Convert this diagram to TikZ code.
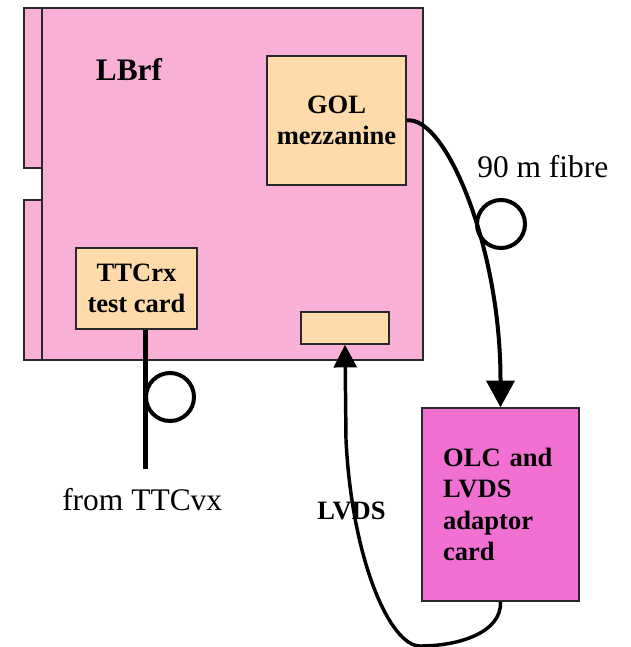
\documentclass[tikz,border=0pt]{standalone}
\usepackage{fontspec}
\setmainfont{Liberation Serif}
\usetikzlibrary{arrows.meta}
\definecolor{boardpink}{RGB}{248,176,214}
\definecolor{cardpeach}{RGB}{255,218,170}
\definecolor{olcpink}{RGB}{242,112,210}
\definecolor{edgegray}{RGB}{40,40,40}

\begin{document}
\begin{tikzpicture}[
x=0.75pt, y=-0.75pt,
every node/.style={font=\fontsize{19.9}{23.7}\selectfont\bfseries},
board/.style={rectangle, draw=edgegray, line width=1.1pt, fill=boardpink, inner sep=0pt},
card/.style={rectangle, draw=edgegray, line width=1.1pt, fill=cardpeach, inner sep=0pt, align=center},
adaptor/.style={rectangle, draw=edgegray, line width=1.1pt, fill=olcpink, align=left, text width=86pt, minimum width=117.75pt, minimum height=144.75pt},
plain/.style={font=\fontsize{23.6}{28}\selectfont, inner sep=0pt},
cable/.style={line width=3.75pt},
fibre/.style={line width=3pt, -{Triangle[length=20pt,width=21pt]}},
lvds/.style={line width=2.6pt, -{Triangle[length=17pt,width=17pt]}},
coil/.style={circle, draw, line width=3pt, minimum size=36pt, inner sep=0pt}
]
\useasboundingbox (0,0) rectangle (631,647);

% Board
\filldraw[fill=boardpink, draw=edgegray, line width=1.1pt] (24,8) rectangle (42,168);
\filldraw[fill=boardpink, draw=edgegray, line width=1.1pt] (24,200) rectangle (42,360);
\node[board, minimum width=285.75pt, minimum height=264pt] (board) at (232.5,184) {};
\node[font=\fontsize{23.5}{28}\selectfont\bfseries, anchor=base, inner sep=0pt] (lbrf) at (129,80) {LBrf};

% Nodes
\node[card, minimum width=104.25pt, minimum height=96.75pt] (gol) at (336.5,120.5) {GOL\\mezzanine};
\node[card, minimum width=90.75pt, minimum height=60.75pt] (ttc) at (136.5,288.5) {TTCrx\\test card};
\node[card, minimum width=66pt, minimum height=24pt] (conn) at (345,328) {};
\node[adaptor] (olc) at (500.5,504.5) {OLC and\\LVDS\\adaptor\\card};

\node[coil] (fibrecoil) at (501,224) {};
\node[coil] (ttccoil) at (170,397) {};

\coordinate (fibrebend) at (500.5,378);
\coordinate (ttcend) at (145,469);
\coordinate (lvdslow) at (420,646);
\coordinate (lvdsup) at (346,440);

% Connections
\draw[fibre] (gol.east) .. controls (445,115) and (500,245) .. (fibrebend) -- (olc.north);
\draw[cable] (ttc.south -| ttcend) -- (ttcend);
\draw[lvds] (olc.south) .. controls (502,632) and (460,646) .. (lvdslow)
  .. controls (390,646) and (352,560) .. (lvdsup) -- (conn.south);

% Labels
\node[plain, anchor=base west] (fibrelabel) at (477,177) {90 m fibre};
\node[plain, anchor=base west] (ttcvx) at (62,510) {from TTCvx};
\node[anchor=base west, inner sep=0pt] (lvdslabel) at (317,519) {LVDS};

\end{tikzpicture}
\end{document}
